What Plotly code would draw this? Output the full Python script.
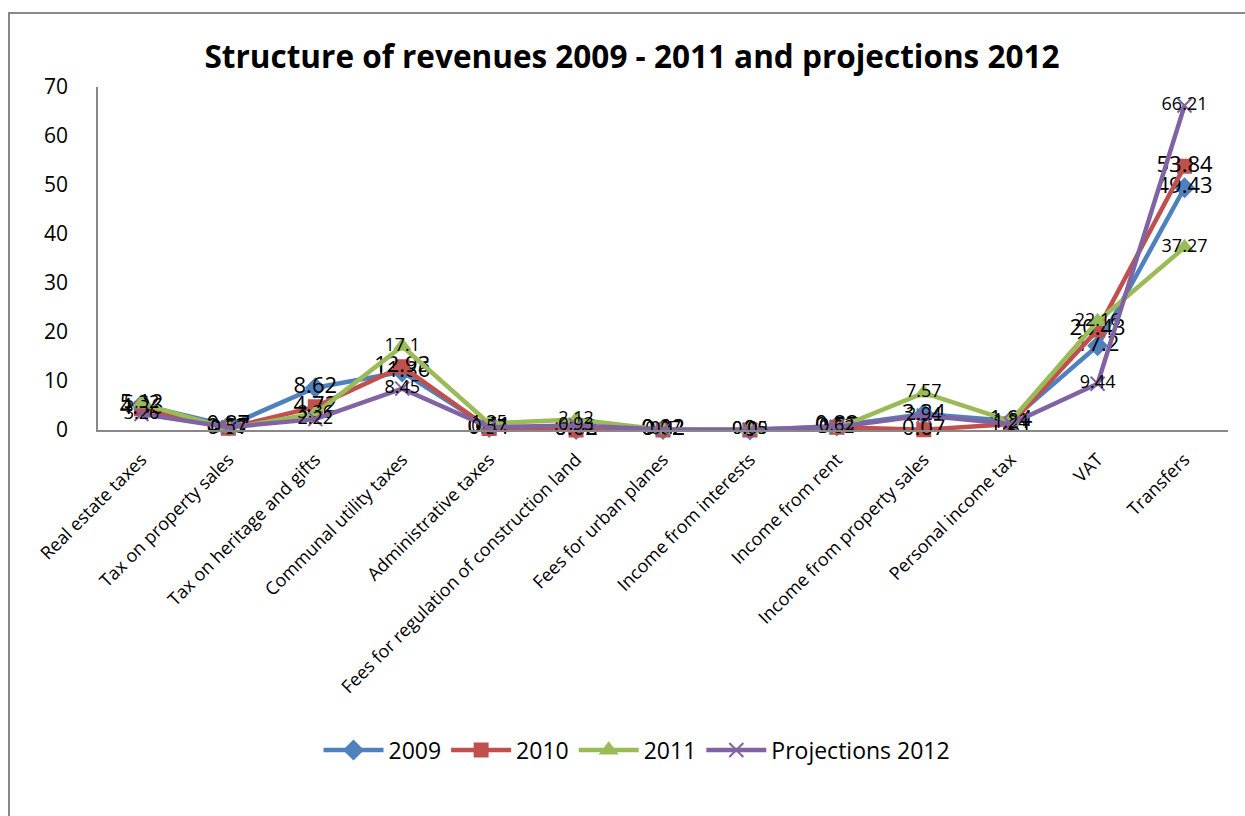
import plotly.graph_objects as go

categories = [
    "Real estate taxes", "Tax on property sales", "Tax on heritage and gifts",
    "Communal utility taxes", "Administrative taxes",
    "Fees for regulation of construction land", "Fees for urban planes",
    "Income from interests", "Income from rent", "Income from property sales",
    "Personal income tax", "VAT", "Transfers",
]

rev_2009 = [5.12, 0.87, 8.62, 11.86, 0.51, 0.08, 0.12, 0.0, 0.82, 3.24, 1.84, 17.2, 49.43]
rev_2010 = [4.36, 0.37, 4.72, 12.93, 0.31, 0.02, 0.02, 0.0, 0.57, 0.07, 1.21, 20.43, 53.84]
rev_2011 = [5.32, 0.33, 3.36, 17.1, 1.35, 2.12, 0.07, 0.09, 0.32, 7.57, 1.81, 22.16, 37.27]
proj_2012 = [3.26, 0.57, 2.22, 8.45, 0.57, 0.93, 0.10, 0.05, 0.62, 2.94, 1.24, 9.44, 66.21]

y_ticks = [0, 10, 20, 30, 40, 50, 60, 70]

W, H = 1245, 816
L, R, T, B = 98, 1228, 87, 430
pw, ph = R - L, B - T
FONT = "Open Sans, Noto Sans, sans-serif"

def px_x(p):
    return (p - L) / pw

def px_y(p):
    return (B - p) / ph

series = [
    ("2009", rev_2009, "#4F81BD", "diamond", 14, 22),
    ("2010", rev_2010, "#C0504D", "square", 13, 22),
    ("2011", rev_2011, "#9BBB59", "triangle-up", 14, 18),
    ("Projections 2012", proj_2012, "#8064A2", "x-thin-open", 14, 18),
]

fig = go.Figure()
for name, vals, color, sym, msize, fsize in series:
    fig.add_trace(go.Scatter(
        x=categories, y=vals, name=name,
        mode="lines+markers+text",
        text=[f"{v:g}" for v in vals],
        textposition="middle center",
        textfont=dict(family=FONT, size=fsize, color="#000000"),
        line=dict(color=color, width=4.5),
        marker=dict(symbol=sym, size=msize, color=color,
                    line=dict(color=color, width=2)),
        cliponaxis=False,
    ))

fig.update_layout(
    width=W, height=H,
    margin=dict(l=L, r=W - R, t=T, b=H - B),
    paper_bgcolor="white", plot_bgcolor="white",
    font=dict(family=FONT, color="#000000"),
    title=dict(text="<b>Structure of revenues 2009 - 2011 and projections 2012</b>",
               x=632 / W, xanchor="center", y=1 - 57 / H, yanchor="middle",
               font=dict(size=31.5, color="#000000")),
    showlegend=True,
    legend=dict(orientation="h", x=px_x(637), xanchor="center",
                y=px_y(750), yanchor="middle",
                font=dict(size=23), itemwidth=60, bgcolor="rgba(0,0,0,0)"),
    xaxis=dict(type="category", range=[-0.5, 12.5], tickangle=-45,
               tickfont=dict(size=18), showline=True, linecolor="#888888",
               linewidth=2, ticks="", ticklabelstandoff=10,
               showgrid=False, zeroline=False),
    yaxis=dict(range=[0, 70], tickvals=y_ticks, tickfont=dict(size=21),
               showline=True, linecolor="#888888", linewidth=1.5,
               ticks="", ticklabelstandoff=24,
               showgrid=False, zeroline=False),
    shapes=[dict(type="rect", xref="paper", yref="paper",
                 x0=px_x(9), x1=px_x(1260), y0=px_y(830), y1=px_y(13),
                 line=dict(color="#888888", width=2), fillcolor="rgba(0,0,0,0)",
                 layer="below")],
)

fig.write_html("out.html")
